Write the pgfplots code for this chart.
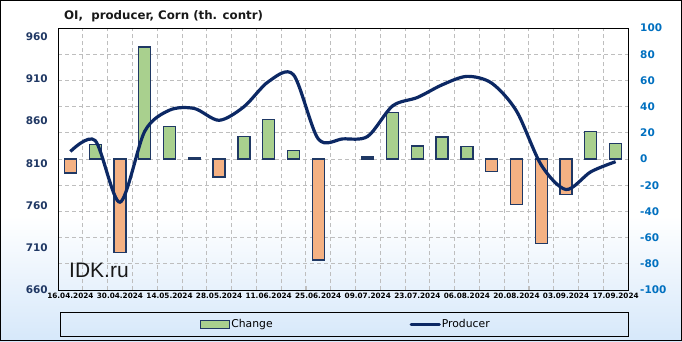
\documentclass[border=0pt]{standalone}
\usepackage{fontspec}
\setmainfont{DejaVu Sans}
\newfontfamily\libsans{Liberation Sans}
\usepackage{pgfplots}
\pgfplotsset{compat=1.18}
\definecolor{navyb}{RGB}{31,56,100}
\definecolor{linec}{RGB}{12,40,100}
\definecolor{leftc}{RGB}{32,56,100}
\definecolor{rightc}{RGB}{0,112,192}
\definecolor{gF}{RGB}{169,208,142}
\definecolor{oF}{RGB}{244,177,131}
\definecolor{bgB}{RGB}{214,232,250}
\definecolor{gridc}{RGB}{190,190,190}
\begin{document}
\begin{tikzpicture}
\fill[white] (0pt,0pt) rectangle (682pt,341pt);
\shade[top color=white, bottom color=bgB] (0pt,0pt) rectangle (682pt,125pt);
\begin{axis}[
  at={(58pt,51pt)}, anchor=south west,
  scale only axis, width=570pt, height=262pt,
  xmin=-0.5, xmax=22.5, ymin=-100, ymax=100,
  ytick={-100,-80,...,100},
  ymajorgrids,
  grid style={gridc, dash pattern=on 4pt off 3pt, line width=0.8pt},
  xtick={0,2,...,22},
  xticklabels={16.04.2024,30.04.2024,14.05.2024,28.05.2024,11.06.2024,25.06.2024,09.07.2024,23.07.2024,06.08.2024,20.08.2024,03.09.2024,17.09.2024},
  minor xtick={-0.5,0.5,...,22.5},
  xminorgrids,
  major x tick style={draw=none},
  minor x tick style={gridc, line width=0.6pt},
  minor tick length=4pt,
  xtick pos=left,
  ytick pos=right, yticklabel pos=right,
  ytick style={draw=none},
  /pgf/number format/assume math mode=true,
  yticklabel style={font=\fontsize{10.5}{12}\selectfont\bfseries, color=rightc, anchor=west, inner sep=0pt, xshift=12pt},
  xticklabel style={font=\fontsize{7.3}{8}\selectfont\bfseries, inner sep=0pt, yshift=-3pt},
  axis line style={black, line width=1pt},
]
\addplot[ybar, bar width=12pt, bar shift=0pt, draw=navyb, line width=1.3pt, fill=gF]
  coordinates {(1,11) (3,85.6) (4,25) (5,1.2) (7,17.2) (8,30.4) (9,6.3) (12,1.5) (13,35.4) (14,10) (15,16.7) (16,9.6) (21,21) (22,11.6)};
\addplot[ybar, bar width=12pt, bar shift=0pt, draw=navyb, line width=1.3pt, fill=oF]
  coordinates {(0,-10.6) (2,-71.5) (6,-13.7) (10,-77) (17,-9.4) (18,-34.8) (19,-64.4) (20,-27)};
\end{axis}
\begin{axis}[
  at={(58pt,51pt)}, anchor=south west,
  scale only axis, width=570pt, height=262pt,
  xmin=-0.5, xmax=22.5, ymin=660, ymax=970.3,
  ytick={660,710,...,960},
  ytick style={draw=none},
  yticklabel pos=left,
  xtick=\empty,
  axis line style={draw=none},
  /pgf/number format/assume math mode=true,
  yticklabel style={font=\fontsize{10.5}{12}\selectfont\bfseries, color=leftc, anchor=east, inner sep=0pt, xshift=-10pt},
  legend columns=2,
  legend style={at={(0.5044,-0.1317)}, anchor=center, draw=none, fill=none,
    font=\fontsize{10.8}{12}\selectfont, nodes={inner sep=1pt},
    /tikz/every even column/.append style={column sep=136pt}},
]
\addlegendimage{legend image code/.code={\draw[draw=navyb, line width=1pt, fill=gF] (0pt,-4pt) rectangle (29pt,4pt);}}
\addlegendentry{Change}
\addplot[linec, line width=3.2pt, smooth, mark=none,
  legend image code/.code={\draw[linec, line width=3.2pt, line cap=round] (1pt,0pt) -- (29pt,0pt);}]
  coordinates {(0,824) (1,837) (2,764) (3,848) (4,873) (5,875) (6,861) (7,877) (8,907) (9,915) (10,839) (11,839) (12,842) (13,878) (14,888) (15,903) (16,913) (17,905) (18,872) (19,808) (20,779) (21,800) (22,812)};
\addlegendentry{Producer}
\end{axis}
\node[anchor=base west, inner sep=0pt, font=\fontsize{11.8}{13}\selectfont\bfseries, text=black!90] at (64pt,321.7pt) {OI,\ \ producer, Corn (th. contr)};
\node[anchor=base west, inner sep=0pt, font=\libsans\fontsize{21}{24}\selectfont, text=black!90] at (69pt,64pt) {IDK.ru};
\draw[black, line width=1pt] (60pt,4.5pt) rectangle (628pt,29pt);
\draw[black, line width=1pt] (0.5pt,0.5pt) rectangle (681.5pt,340.5pt);
\pgfresetboundingbox
\useasboundingbox (0pt,0pt) rectangle (682pt,341pt);
\end{tikzpicture}
\end{document}
